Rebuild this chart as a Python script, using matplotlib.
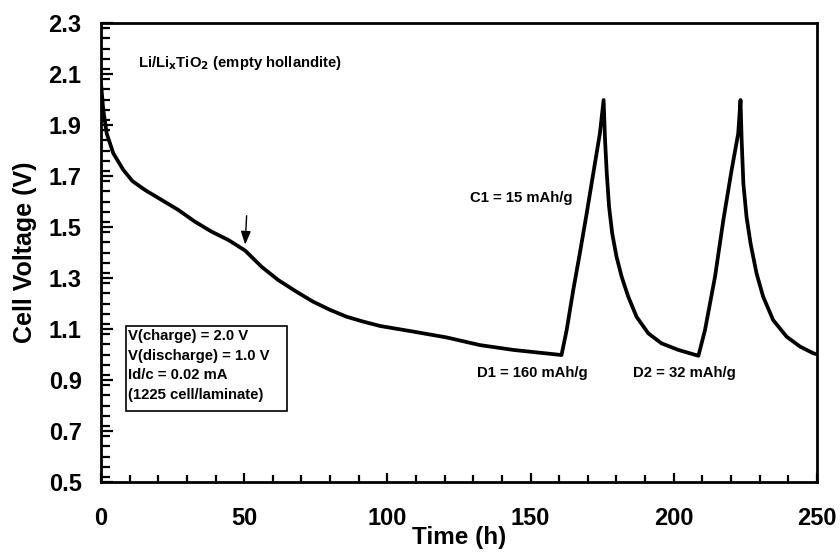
import matplotlib
matplotlib.use("Agg")
import matplotlib.pyplot as plt
from matplotlib.ticker import MultipleLocator
from matplotlib.patches import Rectangle

plt.rcParams['font.family'] = ['Liberation Sans', 'DejaVu Sans']
plt.rcParams['font.weight'] = 'bold'

time_h = [0.0, 0.8, 2.0, 4.3, 7.8, 11.0, 15.4, 21.2, 27.0, 32.8, 38.6, 44.5, 50.3, 56.1,
          61.9, 68.3, 74.1, 80.0, 85.8, 91.6, 97.4, 109.0, 120.7, 132.3, 144.0, 160.8,
          162.6, 164.9, 167.2, 169.6, 171.9, 174.2, 175.5,
          176.0, 176.6, 177.4, 178.5, 180.0, 181.8, 184.1, 187.0, 191.1, 195.7, 201.6, 208.6,
          210.9, 214.4, 217.3, 220.2, 222.5, 223.3,
          223.7, 224.3, 225.4, 226.8, 228.9, 231.2, 234.7, 239.4, 244.1, 248.7, 249.6]
voltage_v = [2.065, 1.96, 1.867, 1.789, 1.724, 1.68, 1.645, 1.606, 1.567, 1.521, 1.482, 1.449,
             1.408, 1.344, 1.292, 1.246, 1.207, 1.175, 1.148, 1.129, 1.112, 1.09, 1.067,
             1.037, 1.018, 0.998,
             1.096, 1.253, 1.397, 1.554, 1.711, 1.867, 1.998,
             1.841, 1.711, 1.58, 1.475, 1.384, 1.305, 1.227, 1.148, 1.083, 1.044, 1.018, 0.995,
             1.096, 1.305, 1.527, 1.724, 1.867, 1.998,
             1.84, 1.67, 1.54, 1.436, 1.318, 1.227, 1.135, 1.07, 1.031, 1.005, 1.002]

x_ticks = [0, 50, 100, 150, 200, 250]
y_ticks = [0.5, 0.7, 0.9, 1.1, 1.3, 1.5, 1.7, 1.9, 2.1, 2.3]
box_lines = ['V(charge) = 2.0 V', 'V(discharge) = 1.0 V', 'Id/c = 0.02 mA', '(1225 cell/laminate)']

fig = plt.figure(figsize=(8.4, 5.57), dpi=100)
ax = fig.add_axes([0.1202, 0.1346, 0.8524, 0.8241])

ax.plot(time_h, voltage_v, color='black', lw=2.7, solid_joinstyle='round', solid_capstyle='round')

ax.set_xlim(0, 250)
ax.set_ylim(0.5, 2.3)
ax.set_xticks(x_ticks)
ax.set_yticks(y_ticks)
ax.set_xticklabels([str(v) for v in x_ticks])
ax.set_yticklabels([f"{v:.1f}" for v in y_ticks])
ax.xaxis.set_minor_locator(MultipleLocator(10))
ax.yaxis.set_minor_locator(MultipleLocator(0.04))

for s in ax.spines.values():
    s.set_linewidth(2.0)

ax.tick_params(axis='both', which='both', direction='in', width=1.6,
               top=False, right=False, labelsize=17)
ax.tick_params(axis='y', which='major', length=8.5, pad=14)
ax.tick_params(axis='y', which='minor', length=6.5)
ax.tick_params(axis='x', which='major', length=6.5, pad=18)
ax.tick_params(axis='x', which='minor', length=5)
for lab in ax.get_xticklabels() + ax.get_yticklabels():
    lab.set_fontweight('bold')

ax.set_xlabel('Time (h)', fontsize=17.5, fontweight='bold', labelpad=-3)
ax.set_ylabel('Cell Voltage (V)', fontsize=18, fontweight='bold', labelpad=8)

fs = 10.7
ax.text(12.9, 2.145, r'Li/Li$_\mathbf{x}$TiO$_\mathbf{2}$ (empty hollandite)', fontsize=fs,
        fontweight='bold', va='center', ha='left')
ax.text(128.8, 1.615, 'C1 = 15 mAh/g', fontsize=fs, fontweight='bold', va='center', ha='left')
ax.text(131.3, 0.928, 'D1 = 160 mAh/g', fontsize=fs, fontweight='bold', va='center', ha='left')
ax.text(185.8, 0.928, 'D2 = 32 mAh/g', fontsize=fs, fontweight='bold', va='center', ha='left')

ax.add_patch(Rectangle((8.7, 0.778), 56.2, 0.334, fill=False, ec='black', lw=1.2, zorder=3))
for i, line in enumerate(box_lines):
    ax.text(9.6, 1.073 - i * 0.077, line, fontsize=fs, fontweight='bold', va='center', ha='left')

ax.annotate('', xy=(50.3, 1.42), xytext=(50.9, 1.555),
            arrowprops=dict(arrowstyle='-|>,head_length=0.8,head_width=0.3',
                            color='black', lw=1.0))

fig.savefig('out.png', dpi=100)
